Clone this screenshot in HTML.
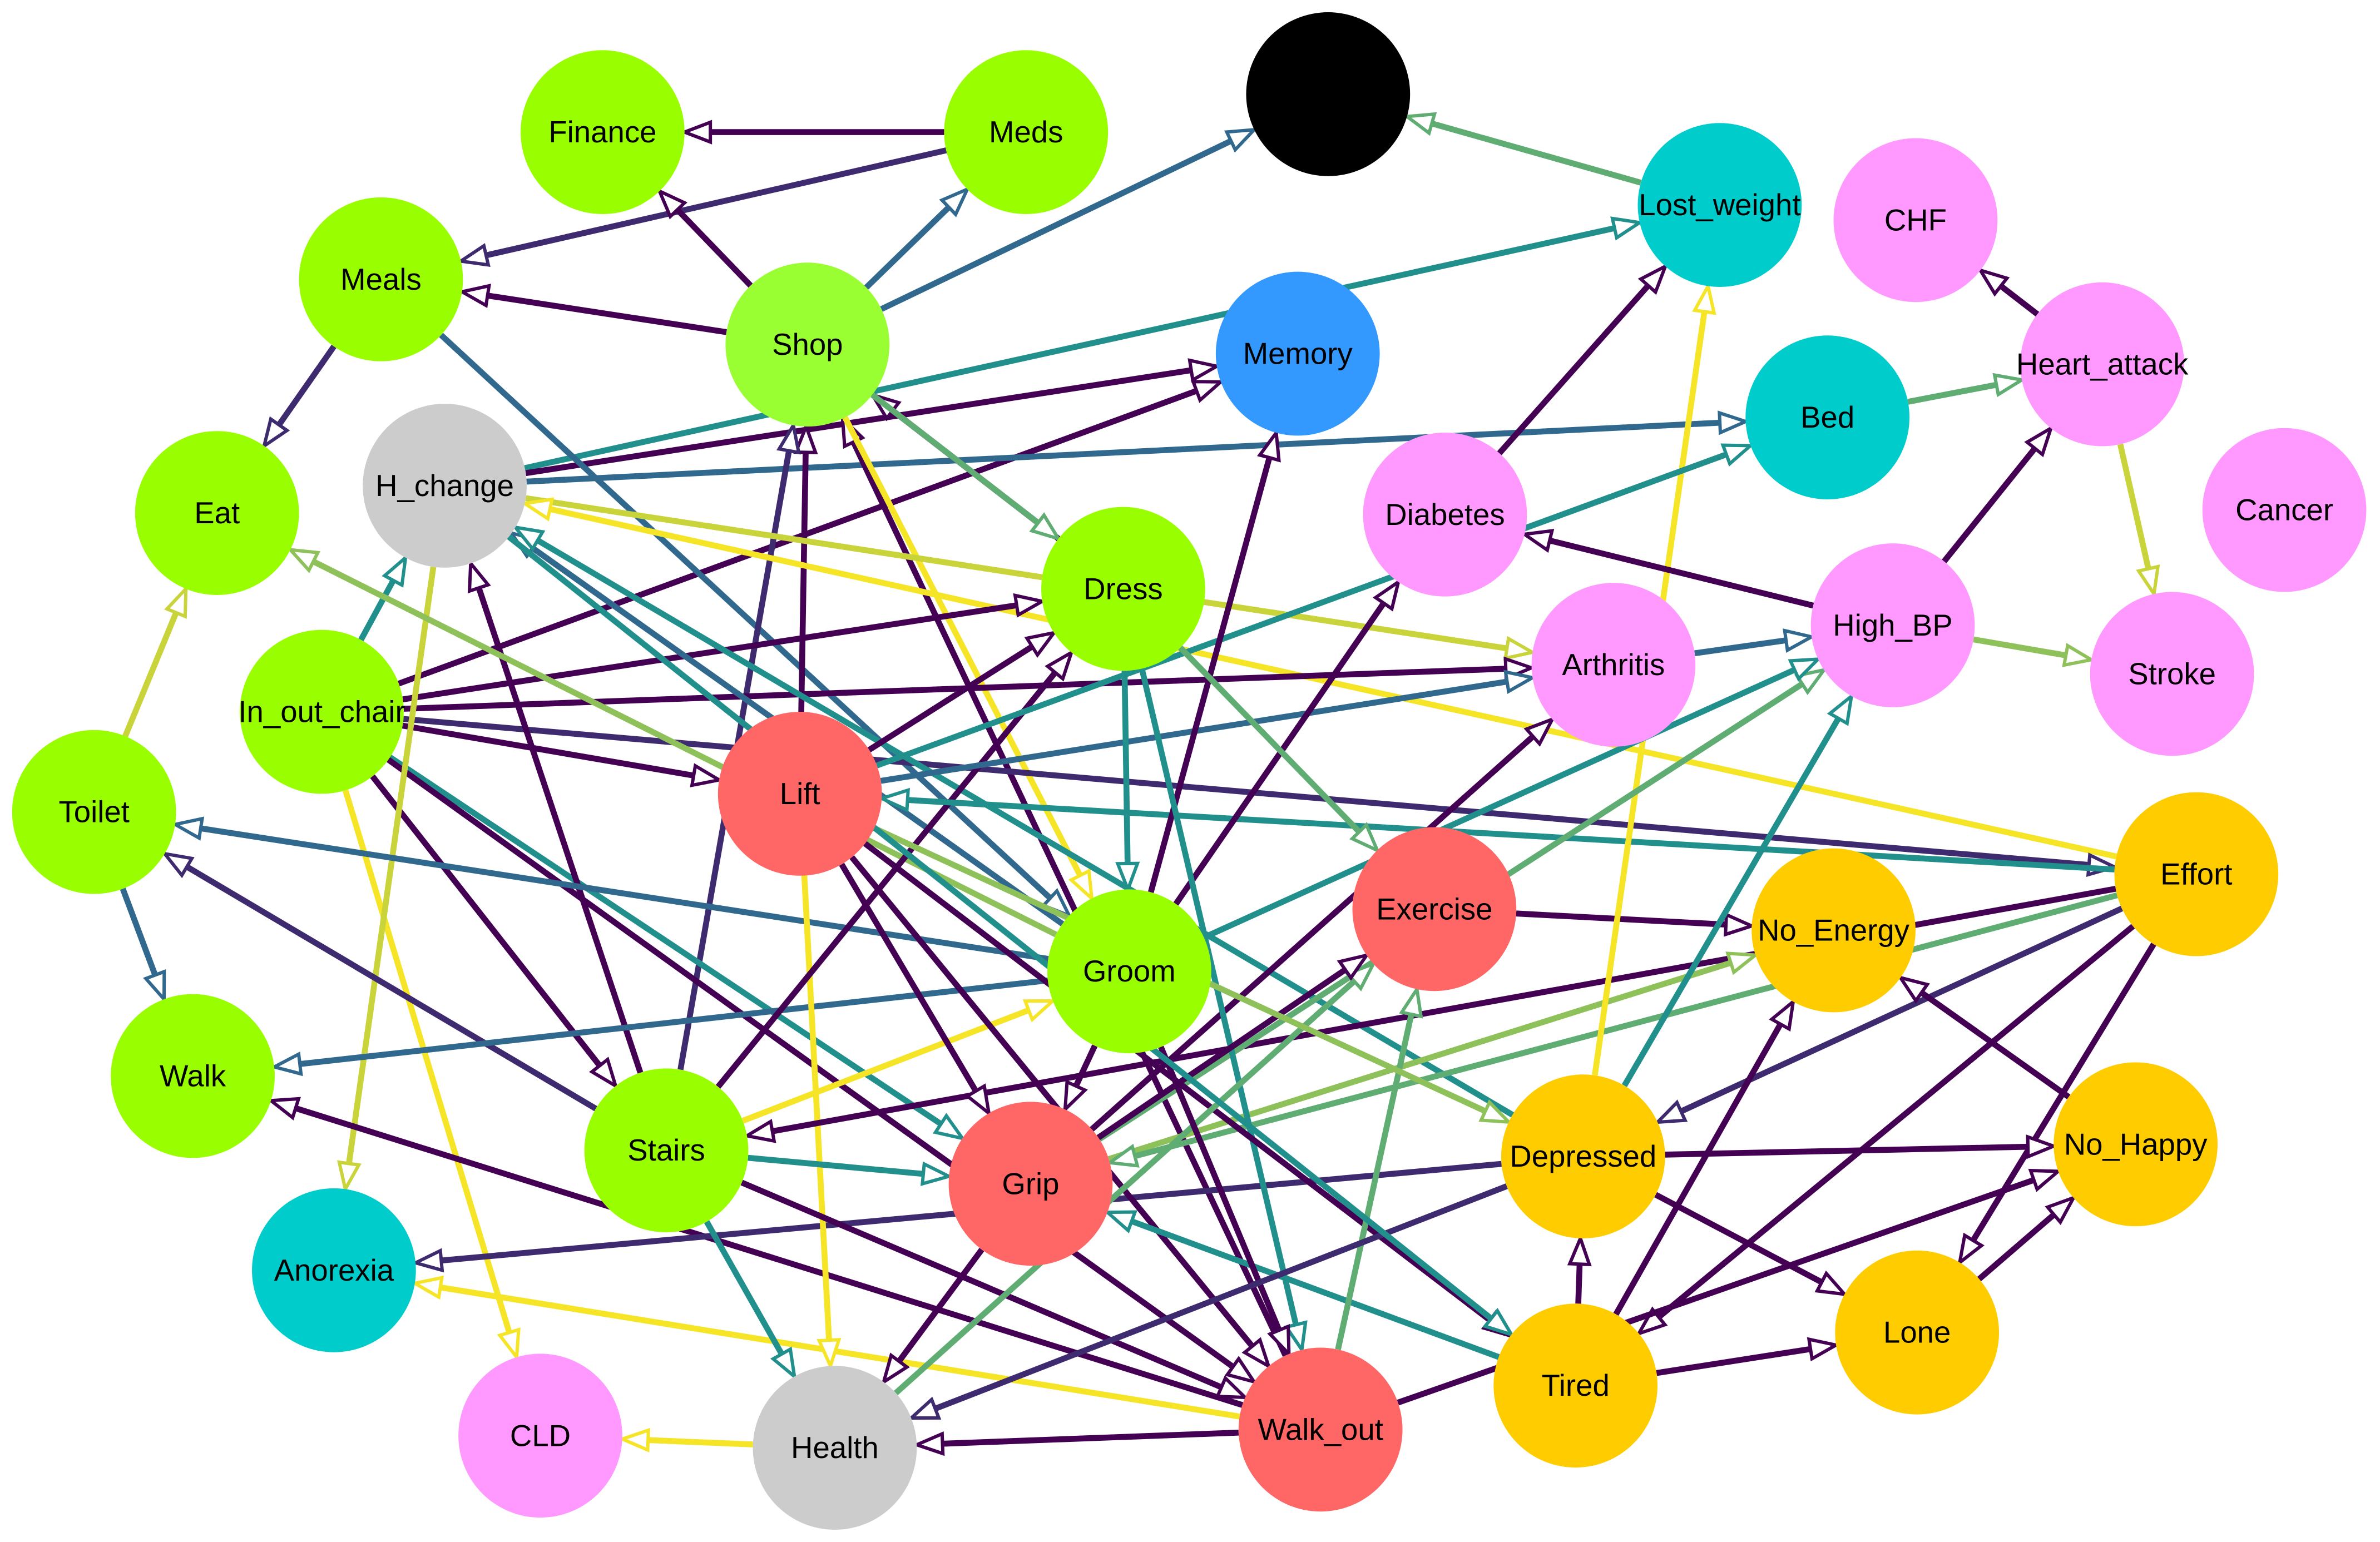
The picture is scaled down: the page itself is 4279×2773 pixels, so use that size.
<!DOCTYPE html>
<html><head><meta charset="utf-8"><style>
html,body{margin:0;padding:0;background:#fff;}
svg{display:block;}
text{font-family:"Liberation Sans",Arial,sans-serif;font-size:20px;fill:#000;text-anchor:middle;dominant-baseline:central;}
</style></head><body>
<svg id="g" width="4279" height="2773" viewBox="0 0 1568 1016" xmlns="http://www.w3.org/2000/svg">
<g id="edges"></g>
<g id="nodes">
<circle cx="875" cy="62" r="54" fill="#000"/>
<circle cx="397" cy="87" r="54" fill="#99ff00"/><text x="397" y="87">Finance</text>
<circle cx="676" cy="87" r="54" fill="#99ff00"/><text x="676" y="87">Meds</text>
<circle cx="1133" cy="135" r="54" fill="#00cccc"/><text x="1133" y="135">Lost_weight</text>
<circle cx="1262" cy="145" r="54" fill="#ff99ff"/><text x="1262" y="145">CHF</text>
<circle cx="251" cy="184" r="54" fill="#99ff00"/><text x="251" y="184">Meals</text>
<circle cx="532" cy="227" r="54" fill="#99ff33"/><text x="532" y="227">Shop</text>
<circle cx="855" cy="233" r="54" fill="#3399ff"/><text x="855" y="233">Memory</text>
<circle cx="1385" cy="240" r="54" fill="#ff99ff"/><text x="1385" y="240">Heart_attack</text>
<circle cx="1204" cy="275" r="54" fill="#00cccc"/><text x="1204" y="275">Bed</text>
<circle cx="293" cy="320" r="54" fill="#cccccc"/><text x="293" y="320">H_change</text>
<circle cx="143" cy="338" r="54" fill="#99ff00"/><text x="143" y="338">Eat</text>
<circle cx="952" cy="339" r="54" fill="#ff99ff"/><text x="952" y="339">Diabetes</text>
<circle cx="1505" cy="336" r="54" fill="#ff99ff"/><text x="1505" y="336">Cancer</text>
<circle cx="740" cy="388" r="54" fill="#99ff00"/><text x="740" y="388">Dress</text>
<circle cx="1247" cy="412" r="54" fill="#ff99ff"/><text x="1247" y="412">High_BP</text>
<circle cx="1063" cy="438" r="54" fill="#ff99ff"/><text x="1063" y="438">Arthritis</text>
<circle cx="1431" cy="444" r="54" fill="#ff99ff"/><text x="1431" y="444">Stroke</text>
<circle cx="212" cy="469" r="54" fill="#99ff00"/><text x="212" y="469">In_out_chair</text>
<circle cx="527" cy="523" r="54" fill="#ff6666"/><text x="527" y="523">Lift</text>
<circle cx="62" cy="535" r="54" fill="#99ff00"/><text x="62" y="535">Toilet</text>
<circle cx="1447" cy="576" r="54" fill="#ffcc00"/><text x="1447" y="576">Effort</text>
<circle cx="945" cy="599" r="54" fill="#ff6666"/><text x="945" y="599">Exercise</text>
<circle cx="1208" cy="613" r="54" fill="#ffcc00"/><text x="1208" y="613">No_Energy</text>
<circle cx="744" cy="640" r="54" fill="#99ff00"/><text x="744" y="640">Groom</text>
<circle cx="127" cy="709" r="54" fill="#99ff00"/><text x="127" y="709">Walk</text>
<circle cx="439" cy="758" r="54" fill="#99ff00"/><text x="439" y="758">Stairs</text>
<circle cx="1407" cy="754" r="54" fill="#ffcc00"/><text x="1407" y="754">No_Happy</text>
<circle cx="1043" cy="762" r="54" fill="#ffcc00"/><text x="1043" y="762">Depressed</text>
<circle cx="679" cy="780" r="54" fill="#ff6666"/><text x="679" y="780">Grip</text>
<circle cx="220" cy="837" r="54" fill="#00cccc"/><text x="220" y="837">Anorexia</text>
<circle cx="1263" cy="878" r="54" fill="#ffcc00"/><text x="1263" y="878">Lone</text>
<circle cx="1038" cy="913" r="54" fill="#ffcc00"/><text x="1038" y="913">Tired</text>
<circle cx="356" cy="946" r="54" fill="#ff99ff"/><text x="356" y="946">CLD</text>
<circle cx="550" cy="954" r="54" fill="#cccccc"/><text x="550" y="954">Health</text>
<circle cx="870" cy="942" r="54" fill="#ff6666"/><text x="870" y="942">Walk_out</text>
</g>
</svg>
<script>
var N={Black:[875,62],Finance:[397,87],Meds:[676,87],Lost_weight:[1133,135],CHF:[1262,145],Meals:[251,184],Shop:[532,227],Memory:[855,233],Heart_attack:[1385,240],Bed:[1204,275],H_change:[293,320],Eat:[143,338],Diabetes:[952,339],Cancer:[1505,336],Dress:[740,388],High_BP:[1247,412],Arthritis:[1063,438],Stroke:[1431,444],In_out_chair:[212,469],Lift:[527,523],Toilet:[62,535],Effort:[1447,576],Exercise:[945,599],No_Energy:[1208,613],Groom:[744,640],Walk:[127,709],Stairs:[439,758],No_Happy:[1407,754],Depressed:[1043,762],Grip:[679,780],Anorexia:[220,837],Lone:[1263,878],Tired:[1038,913],CLD:[356,946],Health:[550,954],Walk_out:[870,942]};
var C={P:"#440154",Q:"#3e2a6e",B:"#31688e",T:"#21908d",G:"#5fad72",L:"#8fc15a",Y:"#f5e526",W:"#c8d43a"};
var E=[
["Meds","Finance","P"],["Meds","Meals","Q"],["Shop","Meds","B"],["Shop","Black","B"],["Shop","Finance","P"],["Shop","Meals","P"],
["Lost_weight","Black","G"],["H_change","Lost_weight","T"],["H_change","Memory","P"],["In_out_chair","Memory","P"],["H_change","Bed","B"],
["Meals","Eat","Q"],["Meals","Groom","B"],["Lift","Shop","P"],["Stairs","Shop","Q"],["Walk_out","Shop","P"],["Dress","Shop","P"],
["Shop","Groom","Y"],["H_change","Arthritis","W"],["Effort","H_change","Y"],["In_out_chair","Arthritis","P"],["In_out_chair","Dress","P"],
["In_out_chair","H_change","T"],["In_out_chair","Lift","P"],["In_out_chair","Effort","Q"],["In_out_chair","Stairs","P"],["In_out_chair","Grip","T"],
["In_out_chair","Walk_out","P"],["In_out_chair","CLD","Y"],["H_change","Anorexia","W"],["Groom","H_change","B"],["Depressed","H_change","T"],
["Stairs","H_change","P"],["Groom","Eat","L"],["Toilet","Eat","W"],["Toilet","Walk","B"],["Groom","Toilet","B"],["Stairs","Toilet","Q"],
["Groom","Walk","B"],["Walk_out","Walk","P"],["Depressed","Anorexia","Q"],["Walk_out","Anorexia","Y"],["Health","CLD","Y"],["Lift","Health","Y"],
["Stairs","Health","T"],["Stairs","Walk_out","P"],["Stairs","Grip","T"],["Stairs","Groom","Y"],["Stairs","Dress","P"],["Effort","Stairs","P"],
["Effort","Lift","T"],["Effort","Depressed","Q"],["Effort","Tired","P"],["Effort","Lone","P"],["Grip","No_Energy","L"],["Effort","Grip","G"],
["Exercise","No_Energy","P"],["Tired","No_Energy","P"],["No_Happy","No_Energy","P"],["Depressed","No_Happy","P"],["Walk_out","No_Happy","P"],
["Depressed","Lone","P"],["Tired","Lone","P"],["Lone","No_Happy","P"],["Tired","Depressed","P"],["Depressed","Lost_weight","Y"],
["Depressed","High_BP","T"],["Grip","High_BP","G"],["Groom","High_BP","T"],["Arthritis","High_BP","B"],["Lift","Arthritis","B"],
["Grip","Arthritis","P"],["Diabetes","Lost_weight","P"],["High_BP","Diabetes","P"],["Groom","Diabetes","P"],["Lift","Bed","T"],
["High_BP","Heart_attack","P"],["Bed","Heart_attack","G"],["Heart_attack","CHF","P"],["Heart_attack","Stroke","W"],["High_BP","Stroke","L"],
["Groom","Memory","P"],["Dress","Groom","T"],["Dress","Walk_out","T"],["Dress","Exercise","G"],["Lift","Dress","P"],["Lift","Grip","P"],
["Lift","Walk_out","P"],["Lift","Tired","P"],["Tired","Grip","T"],["Walk_out","Exercise","G"],["Health","Exercise","G"],["Groom","Grip","P"],
["Groom","Walk_out","P"],["Grip","Health","P"],["Walk_out","Health","P"],["Depressed","Health","Q"],["Grip","Exercise","P"],
["Lift","Depressed","L"],["Shop","Dress","G"],["H_change","Tired","T"]
];
var R=54,out="";
E.forEach(function(e){
 var a=N[e[0]],b=N[e[1]],c=C[e[2]];
 var dx=b[0]-a[0],dy=b[1]-a[1],d=Math.sqrt(dx*dx+dy*dy),ux=dx/d,uy=dy/d;
 var sx=a[0]+ux*R,sy=a[1]+uy*R,tx=b[0]-ux*R,ty=b[1]-uy*R;
 var L=17,W=6.5,bx=tx-ux*L,by=ty-uy*L;
 out+='<line x1="'+sx.toFixed(1)+'" y1="'+sy.toFixed(1)+'" x2="'+bx.toFixed(1)+'" y2="'+by.toFixed(1)+'" stroke="'+c+'" stroke-width="3.9"/>';
 var p1=(bx-uy*W).toFixed(1)+','+(by+ux*W).toFixed(1),p2=(bx+uy*W).toFixed(1)+','+(by-ux*W).toFixed(1);
 out+='<polygon points="'+tx.toFixed(1)+','+ty.toFixed(1)+' '+p1+' '+p2+'" fill="#fff" stroke="'+c+'" stroke-width="2.2"/>';
});
document.getElementById("edges").innerHTML=out;
</script>
</body></html>
